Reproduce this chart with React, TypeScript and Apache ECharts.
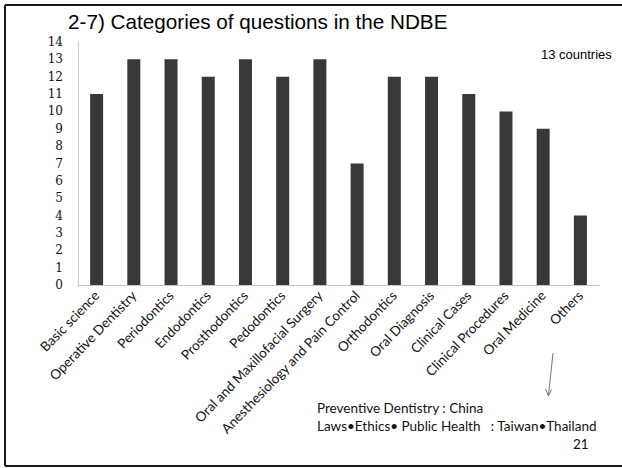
import React, { useEffect, useRef } from "react";
import * as echarts from "echarts";

const categories = [
  "Basic science",
  "Operative Dentistry",
  "Periodontics",
  "Endodontics",
  "Prosthodontics",
  "Pedodontics",
  "Oral and Maxillofacial Surgery",
  "Anesthesiology and Pain Control",
  "Orthodontics",
  "Oral Diagnosis",
  "Clinical Cases",
  "Clinical Procedures",
  "Oral Medicine",
  "Others",
];
const values = [11, 13, 13, 12, 13, 12, 13, 7, 12, 12, 11, 10, 9, 4];
const titleText = "2-7) Categories of questions in the NDBE";
const noteCountries = "13 countries";
const noteLine1 = "Preventive Dentistry : China";
const noteLine2 = "Laws\u2022Ethics\u2022 Public Health   : Taiwan\u2022Thailand";
const pageNumber = "21";

export default function App() {
  const ref = useRef<HTMLDivElement>(null);
  useEffect(() => {
    if (!ref.current) return;
    const chart = echarts.init(ref.current, null, { renderer: "svg" });
    chart.setOption({
      animation: false,
      backgroundColor: "#fff",
      title: {
        text: titleText,
        left: 68,
        top: 11,
        padding: 0,
        textStyle: {
          fontFamily: "Liberation Sans",
          fontWeight: "normal",
          fontSize: 20.7,
          color: "#000",
        },
      },
      grid: { left: 78, right: 23, top: 42, bottom: 183, containLabel: false },
      xAxis: {
        type: "category",
        data: categories,
        axisLine: { show: true, lineStyle: { color: "#b8b8b8", type: "dotted", width: 1 } },
        axisTick: { show: false },
        axisLabel: {
          interval: 0,
          rotate: 46,
          margin: 8,
          fontFamily: "Lato",
          fontSize: 13.5,
          color: "#111",
        },
      },
      yAxis: {
        type: "value",
        min: 0,
        max: 14,
        interval: 1,
        axisLine: { show: true, lineStyle: { color: "#c4c4c4", type: "dotted", width: 1 } },
        axisTick: { show: false },
        splitLine: { show: false },
        axisLabel: {
          margin: 15,
          fontFamily: "'DejaVu Serif', 'Liberation Serif', serif",
          fontSize: 12,
          color: "#111",
        },
      },
      series: [
        {
          type: "bar",
          data: values,
          barWidth: 13,
          itemStyle: { color: "#383838" },
        },
      ],
      graphic: [
        { type: "line", shape: { x1: 5, y1: 5, x2: 622, y2: 5 }, style: { stroke: "#1a1a1a", lineWidth: 2 } },
        { type: "line", shape: { x1: 5, y1: 5, x2: 5, y2: 466 }, style: { stroke: "#1a1a1a", lineWidth: 2 } },
        { type: "line", shape: { x1: 5, y1: 466, x2: 622, y2: 466 }, style: { stroke: "#1a1a1a", lineWidth: 2 } },
        {
          type: "text",
          left: 541,
          top: 48,
          style: { text: noteCountries, fontFamily: "Liberation Sans", fontSize: 13, fill: "#000" },
        },
        {
          type: "text",
          left: 317,
          top: 401,
          style: { text: noteLine1, fontFamily: "Lato", fontSize: 13.5, fill: "#111" },
        },
        {
          type: "text",
          left: 317,
          top: 419,
          style: { text: noteLine2, fontFamily: "Lato", fontSize: 13.5, fill: "#111" },
        },
        {
          type: "text",
          left: 573,
          top: 437,
          style: { text: pageNumber, fontFamily: "Lato", fontSize: 13.5, fill: "#111" },
        },
        { type: "line", shape: { x1: 553, y1: 353, x2: 548.5, y2: 395 }, style: { stroke: "#777", lineWidth: 1 } },
        {
          type: "polyline",
          shape: { points: [[545.5, 389], [548.5, 396], [551.5, 389.5]] },
          style: { stroke: "#777", lineWidth: 1, fill: "none" },
        },
      ],
    });
    return () => chart.dispose();
  }, []);
  return (
    <div
      ref={ref}
      style={{ position: "fixed", left: 0, top: 0, width: 622, height: 468 }}
    />
  );
}
